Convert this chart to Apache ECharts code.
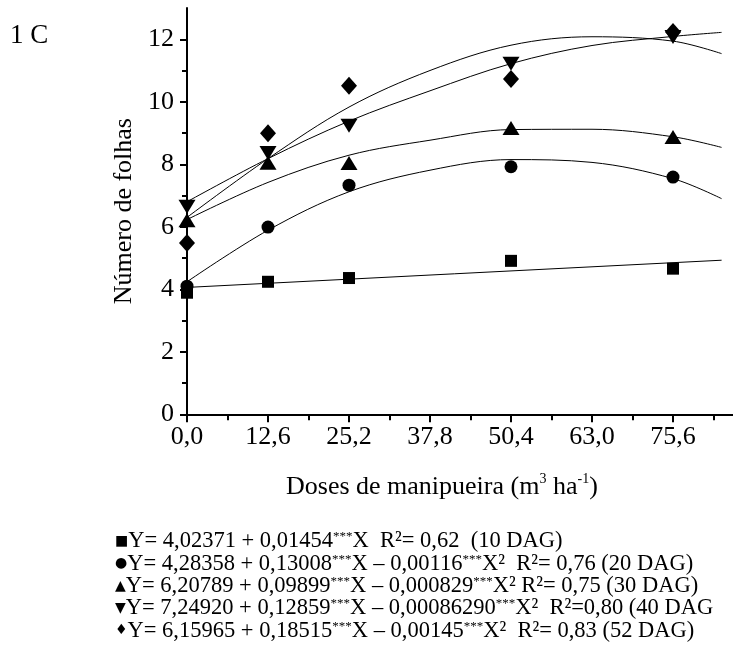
<!DOCTYPE html>
<html>
<head>
<meta charset="utf-8">
<script src="https://cdn.jsdelivr.net/npm/echarts@6/dist/echarts.min.js"></script>
<style>
    html, body {margin: 0; padding: 0; background: #fff;}
    #chart {width: 733px; height: 653px;}
</style>
</head>
<body>
<div id="chart"></div>
<script>
// doses observadas
var doses = [0, 12.6, 25.2, 50.4, 75.6];
var dag10 = [3.89, 4.24, 4.36, 4.91, 4.66];
var dag20 = [4.10, 5.99, 7.33, 7.92, 7.59];
var dag30 = [6.21, 8.05, 8.04, 9.16, 8.87];
var dag40 = [6.64, 8.36, 9.23, 11.22, 12.07];
var dag52 = [5.48, 8.99, 10.51, 10.73, 12.23];

// curvas ajustadas
var lineX10 = [0, 83.16];
var fit10 = [4.06, 4.93];
var curveX = [0, 12.6, 25.2, 37.8, 50.4, 63, 75.6, 83.16];
var fit20 = [4.24, 5.89, 7.12, 7.81, 8.15, 8.06, 7.54, 6.90];
var fit30 = [6.23, 7.42, 8.29, 8.77, 9.11, 9.12, 8.88, 8.54];
var fit40 = [6.80, 8.18, 9.38, 10.35, 11.22, 11.80, 12.09, 12.22];
var fit52 = [6.30, 8.18, 9.83, 11.00, 11.81, 12.08, 11.94, 11.54];

// marcas do eixo y
var yMajor = [0, 2, 4, 6, 8, 10, 12];
var yMinor = [1, 3, 5, 7, 9, 11];

var equations = [
    ['■', 'Y= 4,02371 + 0,01454', 'X  R²= 0,62  (10 DAG)'],
    ['●', 'Y= 4,28358 + 0,13008', 'X – 0,00116', 'X²  R²= 0,76 (20 DAG)'],
    ['▲', 'Y= 6,20789 + 0,09899', 'X – 0,000829', 'X² R²= 0,75 (30 DAG)'],
    ['▼', 'Y= 7,24920 + 0,12859', 'X – 0,00086290', 'X²  R²=0,80 (40 DAG'],
    ['♦', 'Y= 6,15965 + 0,18515', 'X – 0,00145', 'X²  R²= 0,83 (52 DAG)']
];

var FONT = '"Liberation Serif", "Times New Roman", serif';

function pairs(xs, ys) {
    return xs.map(function (x, i) {
        return [x, ys[i]];
    });
}

function fitLine(xs, ys) {
    return {
        type: 'line',
        data: pairs(xs, ys),
        smooth: 0.35,
        showSymbol: false,
        silent: true,
        z: 1,
        lineStyle: {color: '#000', width: 1}
    };
}

function points(ys, symbol, size) {
    return {
        type: 'scatter',
        data: pairs(doses, ys),
        symbol: symbol,
        symbolSize: size,
        z: 3,
        itemStyle: {color: '#000', opacity: 1}
    };
}

// legenda com as equacoes (texto com sobrescrito)
function equationText(parts) {
    var s = '{sym|' + parts[0] + '}{t|' + parts[1] + '}{sup|***}{t|' + parts[2] + '}';
    if (parts.length > 3) {
        s += '{sup|***}{t|' + parts[3] + '}';
    }
    return s;
}

var textStyleRich = {
    t: {fontSize: 22.5, fontFamily: FONT, color: '#000', lineHeight: 22},
    sup: {fontSize: 13, fontFamily: FONT, color: '#000', lineHeight: 10, padding: [0, 0, 10, 0], verticalAlign: 'top'},
    sym: {fontSize: 14, fontFamily: '"DejaVu Sans"', color: '#000', lineHeight: 22}
};

var graphics = [
    {
        type: 'text', left: 10, top: 22,
        style: {text: '1 C', fontSize: 27, fontFamily: FONT, fill: '#000'}
    },
    {
        type: 'text', left: 286, top: 472,
        style: {
            text: '{t|Doses de manipueira (m}{s|3}{t| ha}{s|-1}{t|)}',
            rich: {
                t: {fontSize: 26, fontFamily: FONT, color: '#000', lineHeight: 30},
                s: {fontSize: 14, fontFamily: FONT, color: '#000', lineHeight: 18, verticalAlign: 'top'}
            }
        }
    }
];

equations.forEach(function (parts, i) {
    graphics.push({
        type: 'text',
        left: 115,
        top: 530 + i * 22.3,
        style: {text: equationText(parts), rich: textStyleRich}
    });
});

var chart = echarts.init(document.getElementById('chart'));

var yBase = {
    type: 'value',
    min: 0,
    max: 13,
    interval: 1,
    position: 'left',
    splitLine: {show: false}
};

var option = {
    animation: false,
    backgroundColor: '#fff',
    grid: {left: 187, top: 8, width: 567, height: 406.3, outerBoundsMode: 'none', containLabel: false},
    xAxis: {
        type: 'value',
        min: 0,
        max: 88.2,
        interval: 12.6,
        axisLine: {lineStyle: {color: '#000', width: 2}},
        axisTick: {length: 8, lineStyle: {color: '#000', width: 2}},
        minorTick: {show: true, splitNumber: 2, length: 6, lineStyle: {color: '#000', width: 2}},
        splitLine: {show: false},
        axisLabel: {
            color: '#000',
            fontSize: 26,
            fontFamily: FONT,
            margin: 10,
            showMaxLabel: false,
            formatter: function (v) {
                return v.toFixed(1).replace('.', ',');
            }
        }
    },
    yAxis: [
        echarts.util.merge({
            name: 'Número de folhas',
            nameLocation: 'middle',
            nameGap: 50,
            nameTextStyle: {color: '#000', fontSize: 26, fontFamily: FONT},
            axisLine: {show: true, lineStyle: {color: '#000', width: 2}},
            axisTick: {show: true, length: 7, customValues: yMajor, lineStyle: {color: '#000', width: 2}},
            axisLabel: {color: '#000', fontSize: 26, fontFamily: FONT, margin: 13, customValues: yMajor}
        }, yBase),
        echarts.util.merge({
            axisLine: {show: false},
            axisTick: {show: true, length: 5, customValues: yMinor, lineStyle: {color: '#000', width: 2}},
            axisLabel: {show: false}
        }, yBase)
    ],
    series: [
        {
            type: 'line', data: pairs(lineX10, fit10), showSymbol: false, silent: true, z: 1,
            lineStyle: {color: '#000', width: 1}
        },
        fitLine(curveX, fit20),
        fitLine(curveX, fit30),
        fitLine(curveX, fit40),
        fitLine(curveX, fit52),
        points(dag10, 'rect', 12),
        points(dag20, 'circle', 13),
        points(dag30, 'triangle', [17, 14]),
        points(dag40, 'path://M0,0 L10,0 L5,8.5 Z', [17, 14]),
        points(dag52, 'diamond', [16, 18])
    ],
    graphic: graphics
};

chart.setOption(option);
</script>
</body>
</html>
